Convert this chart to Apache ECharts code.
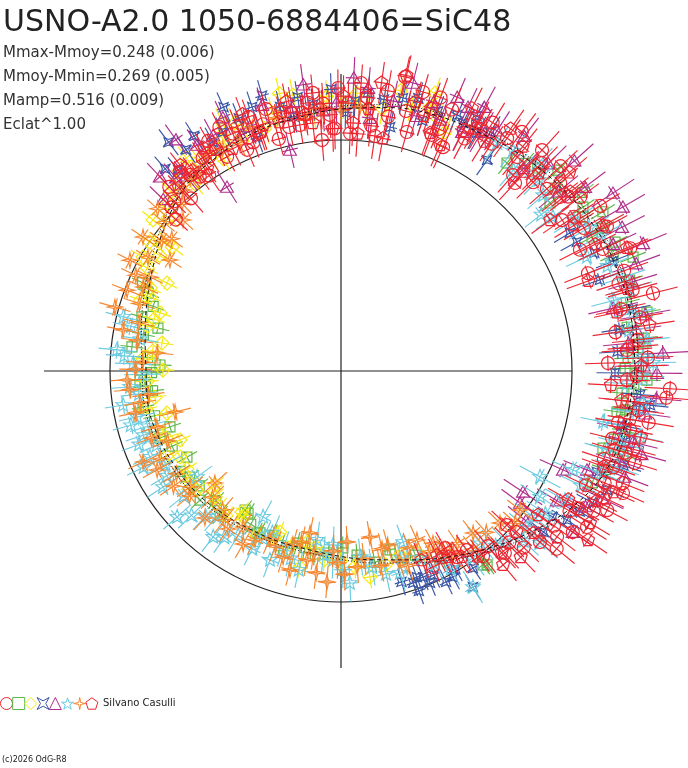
<!DOCTYPE html>
<html><head><meta charset="utf-8">
<script src="https://cdn.jsdelivr.net/npm/echarts/dist/echarts.min.js"></script>
<style>html,body{margin:0;padding:0;background:#fff}#c{width:688px;height:768px}</style>
</head><body><div id="c"></div>
<script>
// ---------- texts ----------
const titleText = 'USNO-A2.0 1050-6884406=SiC48';
const statLines = ['Mmax-Mmoy=0.248 (0.006)', 'Mmoy-Mmin=0.269 (0.005)', 'Mamp=0.516 (0.009)', 'Eclat^1.00'];
const observerText = 'Silvano Casulli';
const footerText = '(c)2026 OdG-R8';

// reference circle and cross-hair lengths (radius units, circle = 1)
const refCircle = 1.0;
const crossArm = 1.286;

// ---------- data: [phase angle deg (ccw from east), radius, radial error] ----------
const redCircles = [
[62.0,1.14,0.10],[65.5,1.065,0.10],[67.0,1.23,0.10],[69.0,1.095,0.10],[71.0,1.20,0.10],[73.6,1.259,0.08],[74.6,1.073,0.09],[77.7,1.303,0.09],[79.5,1.12,0.09],[81.8,1.028,0.10],[84.5,1.19,0.08],[87.8,1.030,0.09],[88.5,1.16,0.09],[90.6,1.225,0.08],[92.5,1.11,0.10],[94.7,1.003,0.09],[95.8,1.21,0.08],[97.0,1.17,0.09],[99.5,1.08,0.08],[101.0,1.14,0.09],[103.2,1.15,0.07],[105.0,1.04,0.07],[107.5,1.12,0.08],[110.0,1.17,0.08],[111.0,1.06,0.07],[114.5,1.13,0.08],[116.5,1.18,0.07],[118.0,1.05,0.07],[121.5,1.09,0.08],[124.0,1.02,0.08],[127.5,1.07,0.07],[129.0,1.11,0.06],[131.0,0.99,0.08],[134.5,1.03,0.07],[137.5,0.97,0.07],
[60.0,1.21,0.10],[63.0,1.17,0.10],[68.0,1.13,0.09],[70.0,1.26,0.09],[76.0,1.16,0.09],[80.5,1.23,0.09],[83.0,1.07,0.09],[86.0,1.25,0.08],[91.5,1.05,0.09],[93.8,1.16,0.09],[98.5,1.13,0.08],[102.0,1.08,0.08],[106.0,1.18,0.08],[109.0,1.09,0.08],[113.0,1.04,0.08],[120.0,1.15,0.07],[123.0,1.10,0.08],[126.0,1.04,0.07],[133.0,1.09,0.07],[136.0,1.02,0.07],
[61.2,1.230,0.10],[58.6,1.26,0.10],[56.5,1.18,0.09],[54.5,1.238,0.10],[52.9,1.298,0.10],[50.5,1.20,0.10],[48.7,1.129,0.10],[47.7,1.293,0.11],[47.2,1.109,0.10],[46.0,1.25,0.10],[44.5,1.166,0.10],[43.0,1.30,0.10],[41.5,1.19,0.10],[40.6,1.25,0.10],[38.5,1.21,0.10],[37.5,1.24,0.10],[36.0,1.28,0.10],[34.3,1.159,0.10],[33.5,1.21,0.10],[32.5,1.33,0.10],[30.5,1.22,0.10],[28.5,1.31,0.10],[26.9,1.16,0.10],[25.0,1.25,0.11],[23.0,1.36,0.10],[21.6,1.15,0.11],[19.5,1.30,0.11],[17.5,1.26,0.10],[15.5,1.31,0.11],[14.0,1.392,0.11],[12.5,1.24,0.11],[10.2,1.315,0.10],[8.0,1.20,0.10],[6.0,1.29,0.11],[4.2,1.241,0.11],[2.5,1.33,0.11],[1.7,1.156,0.10],
[359.0,1.28,0.11],[358.2,1.238,0.10],[356.9,1.426,0.11],[355.3,1.413,0.11],[354.0,1.25,0.11],[352.5,1.30,0.11],[350.5,1.35,0.11],[349.5,1.22,0.10],[348.5,1.277,0.10],[346.0,1.21,0.10],[345.0,1.31,0.10],[344.0,1.28,0.10],[342.6,1.333,0.10],[341.5,1.20,0.10],[340.5,1.25,0.10],[338.3,1.313,0.10],[337.0,1.24,0.10],[336.6,1.33,0.10],[335.0,1.17,0.10],[334.3,1.26,0.10],[332.4,1.30,0.10],[331.0,1.25,0.10],[330.0,1.19,0.10],[328.5,1.16,0.10],[327.6,1.261,0.10],[325.2,1.222,0.10],[324.0,1.14,0.10],[322.5,1.179,0.10],[320.5,1.21,0.10],[319.3,1.136,0.10],[317.1,0.98,0.09],[316.0,1.10,0.09],[314.5,1.04,0.09],[312.0,1.06,0.09],[310.0,0.99,0.09],[307.5,1.01,0.09],[305.1,0.948,0.08],[302.0,0.95,0.08],[300.5,0.89,0.08],[298.7,0.918,0.08],[295.1,0.937,0.07]
];
const redPentagons = [
[61.0,1.20,0.10],[63.5,1.27,0.10],[66.3,1.068,0.10],[69.5,1.10,0.10],[72.0,1.16,0.09],[74.5,1.21,0.09],[77.5,1.31,0.09],[79.8,1.023,0.10],[82.0,1.26,0.09],[84.0,1.14,0.09],[86.0,1.03,0.10],[87.2,1.075,0.10],[89.5,1.19,0.09],[92.0,1.05,0.10],[94.5,1.14,0.09],[96.5,1.08,0.09],[98.0,1.12,0.09],[101.5,1.19,0.08],[104.0,1.11,0.08],[108.5,1.09,0.08],[111.0,1.19,0.08],[113.0,1.15,0.08],[116.0,1.07,0.08],[119.5,1.10,0.08],[121.5,1.13,0.08],[123.5,1.05,0.07],[126.5,1.08,0.07],[128.0,1.13,0.07],[131.5,1.06,0.07],
[58.0,1.17,0.10],[55.0,1.28,0.10],[51.0,1.25,0.10],[47.5,1.17,0.10],[45.0,1.21,0.10],[41.0,1.31,0.10],[38.0,1.26,0.10],[35.8,1.117,0.10],[32.0,1.19,0.10],[29.0,1.30,0.10],[26.5,1.23,0.10],[23.3,1.348,0.10],[20.0,1.14,0.10],[16.0,1.29,0.10],[12.0,1.22,0.10],[8.5,1.35,0.11],[4.7,1.268,0.11],[1.0,1.30,0.11],[357.0,1.17,0.10],[354.0,1.22,0.10],[350.5,1.27,0.10],[347.5,1.33,0.10],[344.0,1.23,0.10],[340.0,1.21,0.10],[336.0,1.29,0.10],[333.0,1.24,0.10],[330.5,1.13,0.10],[328.6,1.263,0.10],[325.6,1.296,0.10],[323.8,1.056,0.09],[320.0,1.09,0.09],[317.5,1.03,0.09],[314.0,1.12,0.09],[311.5,1.05,0.09],[309.9,1.094,0.09],[306.5,1.00,0.08],[303.0,0.96,0.08],[300.0,0.93,0.08],[297.5,0.90,0.08],[293.0,0.89,0.08]
];
const greenSquares = [
[51.4,1.152,0.06],[48.5,1.20,0.06],[45.9,1.224,0.06],[42.8,1.28,0.06],[40.5,1.22,0.06],[38.8,1.161,0.06],[36.5,1.30,0.06],[34.1,1.265,0.06],[32.5,1.24,0.06],[31.3,1.327,0.06],[28.7,1.288,0.06],[28.1,1.232,0.06],[25.2,1.311,0.06],[23.0,1.28,0.06],[21.3,1.357,0.06],[17.5,1.31,0.06],[13.5,1.27,0.06],[10.9,1.349,0.06],[8.7,1.253,0.06],[6.2,1.32,0.06],[4.5,1.29,0.06],[2.6,1.244,0.06],[0.5,1.23,0.06],[359.6,1.281,0.06],[358.3,1.325,0.06],[356.5,1.27,0.06],[355.5,1.22,0.06],[352.2,1.242,0.06],[351.6,1.208,0.06],[348.0,1.26,0.06],[346.0,1.22,0.06],[343.6,1.182,0.06],[343.4,1.274,0.06],[339.5,1.22,0.06],[336.0,1.19,0.06],[307.0,1.051,0.05],
[156.0,0.94,0.05],[158.0,0.90,0.05],[161.0,0.86,0.05],[164.8,0.893,0.05],[166.8,0.814,0.05],[169.5,0.87,0.05],[173.4,0.911,0.05],[176.0,0.84,0.05],[178.1,0.784,0.05],[180.5,0.82,0.05],[182.6,0.871,0.05],[184.5,0.85,0.05],[186.0,0.82,0.05],[190.3,0.871,0.05],[193.5,0.83,0.05],[198.1,0.779,0.05],[200.3,0.836,0.05],[204.0,0.80,0.05],[209.2,0.764,0.05],[212.0,0.82,0.05],[215.0,0.80,0.05],[219.0,0.79,0.05],[222.5,0.827,0.05],[226.0,0.78,0.05],[230.0,0.814,0.05],[235.4,0.731,0.05],[236.8,0.735,0.05],[239.5,0.77,0.05],[242.6,0.79,0.05],[243.4,0.784,0.05],[247.5,0.77,0.05],[251.0,0.80,0.05],[255.7,0.769,0.05],[258.5,0.78,0.05],[262.0,0.80,0.05],[266.0,0.79,0.05],[270.6,0.766,0.05],[275.0,0.80,0.05],[280.0,0.84,0.05],[285.3,0.803,0.05],[292.0,0.86,0.05],[298.0,0.92,0.05],[306.2,1.04,0.05]
];
const yellowDiamonds = [
[66.5,1.128,0.07],[69.0,1.17,0.07],[71.3,1.27,0.07],[71.4,1.205,0.07],[75.0,1.19,0.07],[78.0,1.24,0.07],[81.0,1.15,0.07],[84.3,1.144,0.07],[86.7,1.205,0.07],[89.5,1.16,0.07],[93.0,1.19,0.07],[96.0,1.12,0.07],[99.9,1.213,0.07],[102.5,1.23,0.07],[104.8,1.155,0.07],[107.5,1.10,0.07],[111.9,1.138,0.07],[113.1,1.168,0.07],[115.5,1.19,0.07],[117.0,1.12,0.06],[119.0,1.05,0.06],[121.5,1.086,0.06],[124.0,1.10,0.06],[126.0,1.14,0.06],[128.0,1.03,0.06],[130.1,1.081,0.06],[133.5,1.07,0.06],[136.0,1.047,0.06],[138.5,1.00,0.06],[141.2,1.044,0.06],[143.7,0.907,0.06],[144.1,0.967,0.06],[146.0,1.00,0.06],[147.5,0.93,0.05],[150.1,0.989,0.06],[152.0,0.95,0.05],
[153.2,0.844,0.05],[156.5,0.90,0.05],[158.8,0.887,0.05],[160.5,0.92,0.05],[162.2,0.823,0.05],[164.5,0.84,0.05],[167.0,0.86,0.05],[171.1,0.784,0.05],[174.0,0.82,0.05],[176.5,0.86,0.05],[179.7,0.771,0.05],[183.0,0.84,0.05],[188.0,0.813,0.05],[191.0,0.86,0.05],[193.6,0.775,0.05],[198.0,0.84,0.05],[201.0,0.81,0.05],[203.2,0.758,0.05],[206.0,0.84,0.05],[208.1,0.79,0.05],[212.5,0.79,0.05],[216.6,0.814,0.05],[219.5,0.81,0.05],[222.1,0.735,0.05],[225.0,0.77,0.05],[228.0,0.79,0.05],[231.5,0.80,0.05],[234.9,0.746,0.05],[236.1,0.761,0.05],[243.0,0.80,0.05],[248.3,0.773,0.05],[249.2,0.746,0.05],[253.5,0.80,0.05],[258.2,0.867,0.05],[258.8,0.755,0.05],[262.0,0.77,0.05],[265.0,0.82,0.05],[270.0,0.82,0.05],[274.0,0.85,0.05],[278.0,0.90,0.05],[283.0,0.86,0.05],[287.8,0.836,0.05],[293.8,0.88,0.05]
];
const blueCrosses = [
[55.3,1.111,0.08],[58.0,1.22,0.08],[60.3,1.187,0.08],[62.0,1.25,0.07],[63.8,1.196,0.07],[65.6,1.217,0.07],[69.5,1.20,0.07],[72.0,1.14,0.07],[74.2,1.228,0.07],[77.2,1.212,0.07],[78.6,1.077,0.07],[81.0,1.19,0.07],[84.5,1.209,0.07],[87.0,1.17,0.07],[89.0,1.12,0.07],[92.0,1.22,0.07],[96.0,1.16,0.07],[99.0,1.20,0.07],[100.5,1.12,0.07],[103.0,1.173,0.07],[106.0,1.24,0.07],[108.6,1.206,0.07],[109.7,1.076,0.07],[112.0,1.18,0.07],[114.0,1.25,0.07],[116.3,1.154,0.07],[119.2,1.136,0.07],[122.0,1.20,0.07],[125.0,1.17,0.07],[127.0,1.24,0.07],[129.0,1.12,0.07],[131.0,1.16,0.07],
[31.1,1.157,0.08],[28.7,1.164,0.08],[25.0,1.21,0.08],[22.0,1.27,0.08],[19.4,1.188,0.08],[12.0,1.29,0.08],[8.5,1.22,0.08],[4.0,1.20,0.08],[359.6,1.186,0.08],[355.5,1.30,0.08],[353.7,1.346,0.08],[352.6,1.305,0.08],[349.0,1.24,0.08],[346.0,1.27,0.08],[341.5,1.29,0.08],[338.5,1.19,0.08],[335.9,1.262,0.08],[332.4,1.231,0.08],[329.5,1.20,0.08],[326.6,1.172,0.08],[325.4,1.114,0.08],[321.5,1.12,0.08],
[286.0,0.95,0.06],[288.8,0.969,0.06],[289.5,1.01,0.06],[290.2,0.951,0.06],[291.7,0.96,0.06],[292.8,0.995,0.06],[294.5,0.97,0.06],[296.5,1.02,0.06],[298.5,1.015,0.06],[300.0,0.99,0.06],[301.4,1.096,0.06],[303.8,1.027,0.06]
];
const purpleTriangles = [
[57.0,1.24,0.10],[59.5,1.20,0.10],[61.5,1.30,0.10],[63.1,1.159,0.09],[64.3,1.268,0.09],[67.0,1.288,0.09],[68.5,1.168,0.09],[71.0,1.23,0.09],[73.5,1.15,0.09],[76.0,1.285,0.09],[79.0,1.19,0.09],[83.5,1.102,0.09],[84.5,1.231,0.09],[87.5,1.27,0.09],[91.0,1.16,0.09],[94.0,1.13,0.09],[97.5,1.25,0.09],[100.5,1.16,0.09],[103.0,0.982,0.08],[106.5,1.20,0.08],[110.5,1.13,0.08],[113.0,1.11,0.08],[115.0,1.21,0.08],[118.5,1.16,0.08],[121.8,0.937,0.08],[122.5,1.16,0.08],[125.5,1.23,0.08],[128.5,1.08,0.08],[130.5,1.10,0.08],[133.0,1.15,0.08],[136.0,1.07,0.08],
[52.0,1.29,0.10],[48.0,1.18,0.10],[45.0,1.27,0.11],[42.0,1.36,0.11],[39.5,1.22,0.11],[37.0,1.323,0.11],[33.2,1.407,0.11],[30.2,1.412,0.11],[27.1,1.367,0.11],[25.0,1.30,0.11],[22.9,1.42,0.11],[20.0,1.36,0.11],[17.0,1.32,0.11],[13.0,1.209,0.11],[10.5,1.34,0.11],[8.0,1.29,0.11],[5.5,1.25,0.11],[3.2,1.396,0.11],[1.0,1.31,0.11],[359.6,1.368,0.11],[355.0,1.37,0.11],[352.0,1.33,0.11],[348.5,1.24,0.11],[346.3,1.301,0.11],[344.5,1.35,0.11],[342.0,1.27,0.11],[339.5,1.31,0.11],[338.1,1.148,0.11],[336.0,1.052,0.11],[334.0,1.26,0.10],[331.0,1.21,0.10],[329.0,1.09,0.10],[326.4,0.946,0.10],[325.2,1.222,0.10],[323.6,0.963,0.10],[321.0,1.03,0.10]
];
const cyanStars = [
[55.6,1.196,0.09],[52.0,1.21,0.09],[49.4,1.146,0.09],[46.5,1.24,0.09],[44.0,1.19,0.09],[41.0,1.16,0.09],[38.0,1.10,0.09],[36.0,1.134,0.09],[33.0,1.20,0.10],[30.0,1.24,0.10],[27.5,1.27,0.10],[24.9,1.174,0.10],[21.5,1.24,0.10],[18.4,1.287,0.10],[16.0,1.30,0.10],[14.5,1.22,0.10],[11.2,1.289,0.10],[8.0,1.26,0.10],[5.8,1.331,0.10],[2.7,1.309,0.10],[1.5,1.351,0.10],[359.0,1.30,0.10],[357.5,1.24,0.10],[354.0,1.315,0.10],[352.0,1.28,0.10],[349.0,1.156,0.10],[347.6,1.326,0.10],[345.5,1.25,0.10],[343.5,1.20,0.10],[340.8,1.265,0.10],[338.5,1.21,0.10],[336.9,1.092,0.10],[334.5,1.15,0.10],[332.0,0.976,0.10],[330.0,1.12,0.10],[327.7,1.019,0.10],[325.0,1.08,0.10],[322.8,1.044,0.10],[319.8,1.054,0.10],[319.2,1.139,0.10],[317.0,1.08,0.09],[314.0,1.03,0.09],[311.5,1.01,0.09],[309.0,0.96,0.09],[305.0,0.99,0.09],[301.4,1.096,0.08],
[166.0,0.97,0.08],[168.0,0.93,0.08],[171.0,0.88,0.08],[174.6,0.974,0.08],[176.0,0.94,0.08],[178.0,0.90,0.08],[181.0,0.86,0.08],[184.3,0.916,0.08],[186.5,0.88,0.08],[188.9,0.955,0.08],[192.7,0.905,0.08],[194.5,0.94,0.08],[196.0,0.87,0.08],[198.0,0.90,0.08],[200.0,0.93,0.08],[202.0,0.86,0.08],[204.2,0.907,0.08],[206.0,0.95,0.08],[208.0,0.86,0.08],[211.0,0.88,0.08],[213.1,0.92,0.08],[216.4,0.774,0.08],[218.5,0.87,0.08],[221.7,0.95,0.08],[224.0,0.90,0.08],[227.0,0.86,0.08],[229.5,0.83,0.08],[232.4,0.907,0.08],[235.0,0.88,0.08],[238.0,0.84,0.08],[241.9,0.716,0.08],[243.5,0.86,0.08],[245.0,0.80,0.08],[247.0,0.76,0.08],[249.4,0.874,0.08],[252.0,0.81,0.08],[255.0,0.84,0.08],[258.0,0.88,0.08],[261.9,0.739,0.08],[264.5,0.80,0.08],[267.4,0.754,0.08],[267.6,0.819,0.08],[270.5,0.86,0.08],[272.4,0.919,0.08],[276.0,0.81,0.08],[279.0,0.86,0.08],[282.5,0.90,0.08],[286.3,0.911,0.08],[288.0,0.85,0.08],[290.0,0.788,0.08],[293.0,0.88,0.08],[296.0,0.93,0.08],[299.0,0.98,0.08]
];
const orangeStars = [
[85.9,1.146,0.06],[90.0,1.13,0.06],[94.0,1.14,0.06],[98.0,1.10,0.06],[104.0,1.13,0.06],[110.0,1.12,0.06],[114.0,1.08,0.06],[118.0,1.09,0.06],[121.5,1.10,0.06],[125.5,1.052,0.06],[128.0,1.06,0.06],[131.1,1.04,0.06],[133.5,1.00,0.06],[136.3,0.946,0.06],[138.5,1.06,0.06],[140.0,1.00,0.06],[142.0,0.93,0.06],[144.0,0.96,0.06],[145.9,1.035,0.06],[147.0,0.883,0.06],[149.5,0.97,0.06],[152.3,1.032,0.06],[153.8,0.92,0.06],[155.0,0.98,0.07],[157.0,0.93,0.07],[159.3,0.99,0.07],[161.5,0.92,0.07],[164.2,1.017,0.07],[166.5,0.90,0.07],[169.3,0.96,0.07],[171.5,0.89,0.07],[174.4,0.80,0.07],[177.5,0.86,0.07],[179.5,0.89,0.07],[182.4,0.927,0.07],[185.1,0.917,0.07],[187.0,0.84,0.07],[189.0,0.88,0.07],[191.5,0.91,0.07],[193.9,0.74,0.07],[196.9,0.833,0.07],[199.5,0.87,0.07],[202.0,0.81,0.07],[204.7,0.943,0.07],[206.0,0.87,0.07],[208.3,0.904,0.07],[212.0,0.84,0.07],[214.5,0.88,0.07],[217.5,0.824,0.07],[219.5,0.85,0.07],[221.6,0.73,0.07],[224.5,0.78,0.07],[227.2,0.867,0.07],[229.5,0.79,0.07],[232.0,0.82,0.07],[234.5,0.84,0.07],[237.9,0.797,0.07],[240.5,0.86,0.07],[243.0,0.82,0.07],[247.0,0.79,0.07],[249.5,0.81,0.07],[252.7,0.843,0.07],[254.5,0.78,0.07],[255.6,0.889,0.07],[257.0,0.76,0.07],[259.2,0.714,0.07],[259.8,0.831,0.07],[261.5,0.80,0.07],[263.0,0.88,0.07],[266.2,0.915,0.07],[267.5,0.78,0.07],[269.0,0.83,0.07],[271.0,0.88,0.07],[272.0,0.741,0.07],[274.7,0.851,0.07],[277.0,0.82,0.07],[279.9,0.73,0.07],[281.5,0.86,0.07],[283.0,0.79,0.07],[285.0,0.78,0.07],[287.0,0.86,0.07],[289.0,0.89,0.07],[291.0,0.82,0.07],[294.2,0.802,0.07],[296.0,0.87,0.07],[298.1,0.845,0.07],[299.7,0.892,0.07],[301.5,0.93,0.07],[304.0,0.90,0.07],[306.5,0.96,0.07],[309.2,0.905,0.07],[312.0,0.94,0.07],[316.3,0.952,0.07],[319.0,1.00,0.07],[322.2,0.981,0.07]
];
// fitted mean curve (two traced lines)
const fitDashed = [
[0,1.272],[10,1.277],[20,1.275],[30,1.262],[40,1.240],[50,1.217],[60,1.193],[70,1.180],[80,1.158],[90,1.134],[100,1.112],[110,1.098],[120,1.072],[130,1.045],[140,0.990],[150,0.935],[160,0.893],[170,0.861],[180,0.844],[190,0.848],[200,0.840],[210,0.828],[220,0.818],[230,0.802],[240,0.790],[250,0.786],[260,0.786],[270,0.803],[280,0.830],[290,0.870],[300,0.930],[310,1.000],[320,1.080],[330,1.165],[340,1.228],[350,1.252],[360,1.272]
];
const fitDotted = [
[0,1.287],[10,1.292],[20,1.290],[30,1.277],[40,1.254],[50,1.230],[60,1.206],[70,1.193],[80,1.171],[90,1.147],[100,1.125],[110,1.111],[120,1.085],[130,1.058],[140,1.003],[150,0.950],[160,0.910],[170,0.878],[180,0.861],[190,0.864],[200,0.856],[210,0.843],[220,0.832],[230,0.815],[240,0.803],[250,0.799],[260,0.799],[270,0.816],[280,0.844],[290,0.884],[300,0.944],[310,1.014],[320,1.094],[330,1.179],[340,1.242],[350,1.266],[360,1.287]
];

// ---------- marker shapes ----------
function ring(x, y, n, R, rot) { const p = []; for (let i = 0; i < n; i++) { const t = rot + i * 2 * Math.PI / n; p.push([x + R * Math.cos(t), y + R * Math.sin(t)]); } return p; }
function starPts(x, y, n, R1, R2, rot) { const p = []; for (let i = 0; i < 2 * n; i++) { const R = i % 2 ? R2 : R1; const t = rot + i * Math.PI / n; p.push([x + R * Math.cos(t), y + R * Math.sin(t)]); } return p; }
const UP = -Math.PI / 2;
const shapes = {
  circle: (x, y) => ({ type: 'circle', shape: { cx: x, cy: y, r: 6.5 } }),
  square: (x, y) => ({ type: 'rect', shape: { x: x - 5, y: y - 5, width: 10, height: 10 } }),
  diamond: (x, y) => ({ type: 'polygon', shape: { points: ring(x, y, 4, 7, UP) } }),
  cross4: (x, y) => ({ type: 'polygon', shape: { points: starPts(x, y, 4, 6.5, 2.8, -Math.PI / 4) } }),
  triangle: (x, y) => ({ type: 'polygon', shape: { points: ring(x, y + 1.5, 3, 7.5, UP) } }),
  star5: (x, y) => ({ type: 'polygon', shape: { points: starPts(x, y, 5, 7.5, 3.2, UP) } }),
  star4: (x, y) => ({ type: 'polygon', shape: { points: starPts(x, y, 4, 7.5, 2, UP) } }),
  pentagon: (x, y) => ({ type: 'polygon', shape: { points: ring(x, y, 5, 6.8, UP) } })
};

function pointSeries(name, arr, color, shapeKey, tang, z) {
  return {
    name: name, type: 'custom', coordinateSystem: 'polar', z: z, silent: true,
    itemStyle: { color: 'rgba(0,0,0,0)', borderColor: color, borderWidth: 1 },
    data: arr.map(p => [p[1], p[0], p[2]]),
    renderItem: function (params, api) {
      const r = api.value(0), a = api.value(1), e = api.value(2);
      const c = api.coord([r, a]);
      const p1 = api.coord([r - e, a]);
      const p2 = api.coord([r + e, a]);
      let vx = p2[0] - p1[0], vy = p2[1] - p1[1];
      const L = Math.hypot(vx, vy) || 1; vx /= L; vy /= L;
      const tx = -vy * tang, ty = vx * tang;
      const st = { stroke: color, lineWidth: 1.15, fill: 'none' };
      const m = shapes[shapeKey](c[0], c[1]);
      m.style = st;
      return {
        type: 'group', children: [
          { type: 'line', shape: { x1: p1[0], y1: p1[1], x2: p2[0], y2: p2[1] }, style: st },
          { type: 'line', shape: { x1: c[0] - tx, y1: c[1] - ty, x2: c[0] + tx, y2: c[1] + ty }, style: st },
          m
        ]
      };
    }
  };
}

const frameSeries = {
  name: 'frame', type: 'custom', coordinateSystem: 'polar', z: 1, silent: true,
  data: [[0, 0]],
  renderItem: function (params, api) {
    const o = api.coord([0, 0]);
    const e = api.coord([refCircle, 0]);
    const R = Math.hypot(e[0] - o[0], e[1] - o[1]);
    const t = api.coord([crossArm, 90]), l = api.coord([crossArm, 180]), b = api.coord([crossArm, 270]);
    const st = { stroke: '#222', lineWidth: 1.2, fill: 'none' };
    return {
      type: 'group', children: [
        { type: 'circle', shape: { cx: o[0], cy: o[1], r: R }, style: st },
        { type: 'line', shape: { x1: l[0], y1: l[1], x2: e[0], y2: e[1] }, style: st },
        { type: 'line', shape: { x1: t[0], y1: t[1], x2: b[0], y2: b[1] }, style: st }
      ]
    };
  }
};

const COLORS = { red: '#ec2530', green: '#5db648', yellow: '#f5e911', blue: '#3a55a5', purple: '#b02f8c', cyan: '#6ccbe0', orange: '#f5862f' };
const P_PENT = 'path://M50,0 L97.6,34.5 L79.4,90.5 L20.6,90.5 L2.4,34.5 Z';
const P_STAR5 = 'path://M50,0 L61,36 L97.6,34.5 L68,56 L79.4,90.5 L50,69 L20.6,90.5 L32,56 L2.4,34.5 L39,36 Z';
const P_STAR4 = 'path://M50,0 L58,42 L100,50 L58,58 L50,100 L42,58 L0,50 L42,42 Z';
const P_CROSS4 = 'path://M0,0 L50,28 L100,0 L72,50 L100,100 L50,72 L0,100 L28,50 Z';

const chart = echarts.init(document.getElementById('c'), null, { renderer: 'canvas' });
chart.setOption({
  backgroundColor: '#ffffff',
  animation: false,
  title: {
    text: titleText, left: 3, top: 8, padding: 0,
    textStyle: { fontFamily: 'DejaVu Sans', fontSize: 30, fontWeight: 'normal', color: '#222' }
  },
  polar: { center: [341, 371], radius: 346.5 },
  radiusAxis: { min: 0, max: 1.5, show: false },
  angleAxis: { type: 'value', min: 0, max: 360, startAngle: 0, clockwise: false, show: false },
  legend: {
    left: 0, top: 697, padding: 0, itemWidth: 12, itemHeight: 12, itemGap: -0.8,
    selectedMode: false, formatter: function () { return ''; },
    itemStyle: { color: 'inherit', borderColor: 'inherit', borderWidth: 1 },
    data: [
      { name: 'Red circles', icon: 'circle' },
      { name: 'Green squares', icon: 'rect' },
      { name: 'Yellow diamonds', icon: 'diamond' },
      { name: 'Blue crosses', icon: P_CROSS4 },
      { name: 'Purple triangles', icon: 'triangle' },
      { name: 'Cyan stars', icon: P_STAR5 },
      { name: 'Orange stars', icon: P_STAR4 },
      { name: 'Red pentagons', icon: P_PENT }
    ]
  },
  graphic: [
    ...statLines.map((s, i) => ({ type: 'text', x: 3, y: 53 + 24 * i, silent: true,
      style: { text: s, font: '15px "DejaVu Sans"', fill: '#333', verticalAlign: 'middle' } })),
    { type: 'text', x: 103, y: 703, silent: true, style: { text: observerText, font: '10px "DejaVu Sans"', fill: '#222', verticalAlign: 'middle' } },
    { type: 'text', x: 2, y: 760, silent: true, style: { text: footerText, font: '8px "DejaVu Sans"', fill: '#222', verticalAlign: 'middle' } }
  ],
  series: [
    frameSeries,
    pointSeries('Green squares', greenSquares, COLORS.green, 'square', 6, 3),
    pointSeries('Yellow diamonds', yellowDiamonds, COLORS.yellow, 'diamond', 7, 4),
    pointSeries('Blue crosses', blueCrosses, COLORS.blue, 'cross4', 7, 5),
    pointSeries('Purple triangles', purpleTriangles, COLORS.purple, 'triangle', 8, 6),
    pointSeries('Cyan stars', cyanStars, COLORS.cyan, 'star5', 9, 7),
    pointSeries('Orange stars', orangeStars, COLORS.orange, 'star4', 9, 8),
    pointSeries('Red pentagons', redPentagons, COLORS.red, 'pentagon', 8, 9),
    pointSeries('Red circles', redCircles, COLORS.red, 'circle', 8, 10),
    { name: 'fit', type: 'line', coordinateSystem: 'polar', z: 20, silent: true, smooth: 0.4, symbol: 'none',
      data: fitDashed.map(p => [p[1], p[0]]), lineStyle: { color: '#111', width: 1, type: [4, 3] } },
    { name: 'fit2', type: 'line', coordinateSystem: 'polar', z: 20, silent: true, smooth: 0.4, symbol: 'none',
      data: fitDotted.map(p => [p[1], p[0]]), lineStyle: { color: '#111', width: 1, type: [1, 2] } }
  ]
});
</script></body></html>
